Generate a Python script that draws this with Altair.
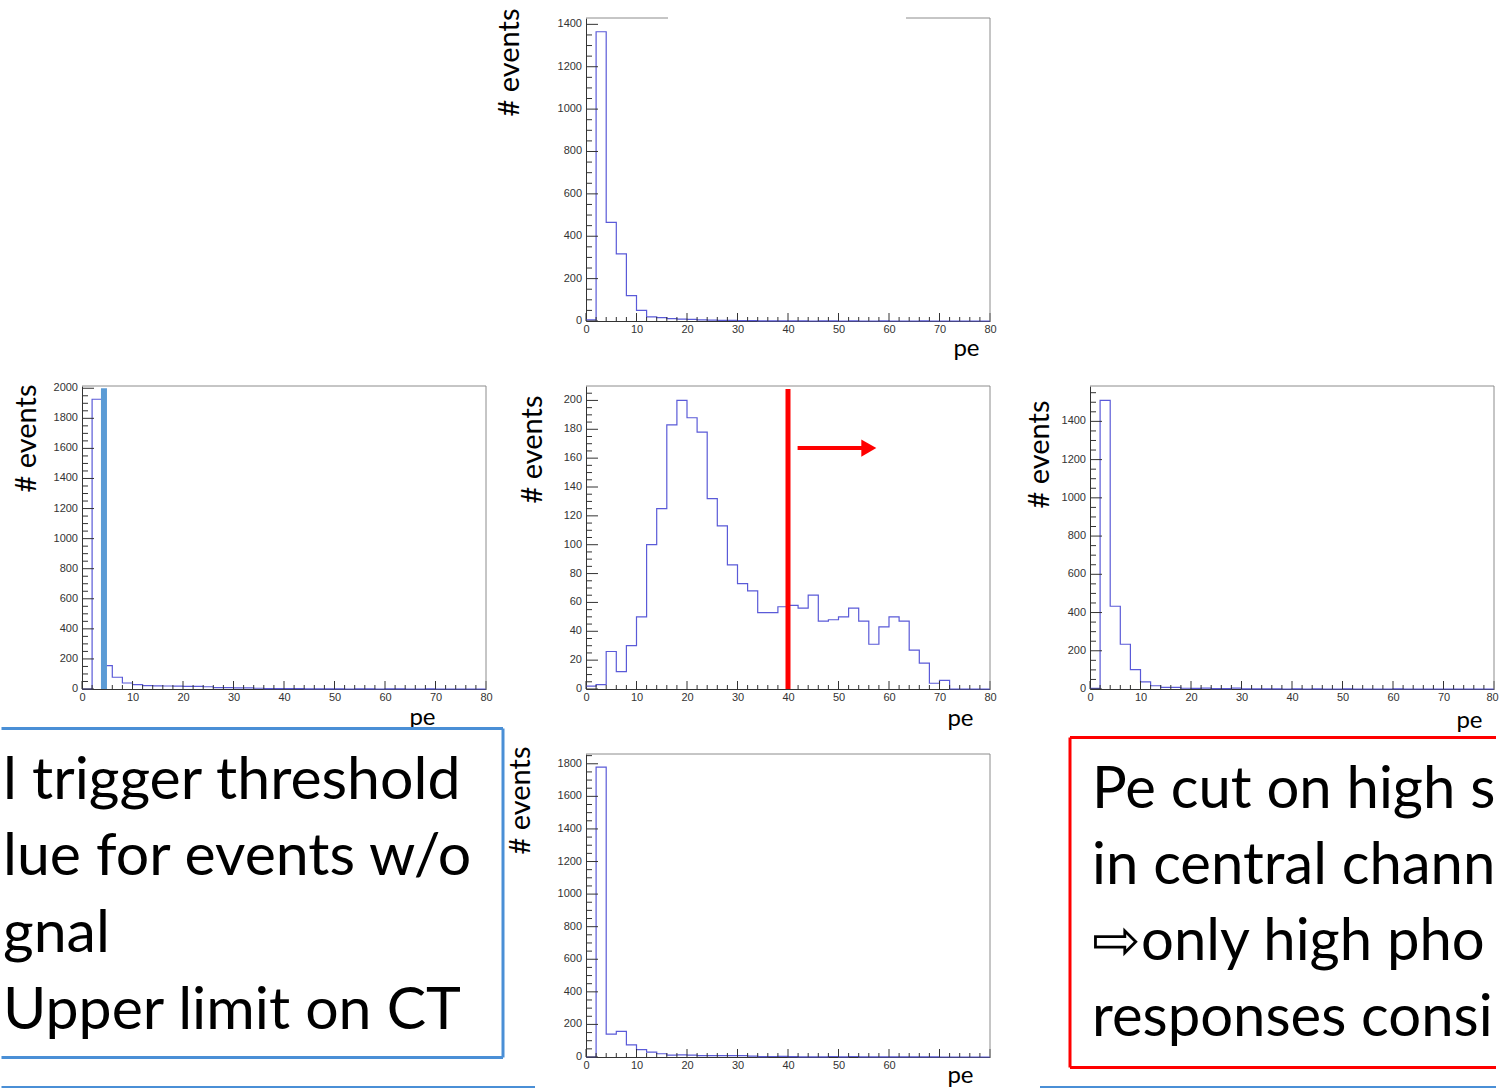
import altair as alt
import pandas as pd

# ---------------- data ----------------
bin_edges = list(range(0, 80, 2))  # 40 bins of width 2 pe

top_counts = [5, 1365, 465, 317, 120, 50, 19, 16, 11, 9, 8, 5, 4, 3, 3, 2, 2, 1, 1, 1,
              1, 1, 0, 1, 1, 0, 1, 0, 0, 1, 0, 0, 0, 1, 0, 0, 0, 0, 0, 0]
left_counts = [0, 1927, 155, 78, 40, 29, 22, 21, 20, 19, 18, 17, 15, 9, 9, 8, 7, 5, 3, 2,
               2, 2, 1, 1, 1, 1, 0, 1, 1, 0, 1, 1, 0, 0, 1, 0, 0, 0, 0, 0]
center_counts = [2, 3, 26, 12, 30, 50, 100, 125, 183, 200, 188, 178, 132, 113, 86, 73, 68, 53, 53, 57,
                 58, 56, 65, 47, 48, 50, 56, 47, 31, 43, 50, 47, 27, 18, 4, 6, 0, 0, 0, 0]
right_counts = [3, 1510, 433, 234, 101, 37, 17, 9, 8, 4, 3, 5, 2, 2, 5, 1, 1, 1, 1, 0,
                1, 0, 1, 0, 0, 1, 0, 0, 0, 0, 1, 0, 0, 0, 0, 0, 0, 0, 0, 0]
bottom_counts = [0, 1779, 140, 157, 74, 45, 30, 20, 12, 13, 12, 9, 9, 8, 8, 8, 5, 2, 3, 4,
                 2, 1, 1, 1, 3, 1, 3, 1, 1, 1, 1, 1, 1, 1, 1, 0, 0, 0, 0, 0]

x_labels = [0, 10, 20, 30, 40, 50, 60, 70, 80]

cut_pe = [40]          # pe cut line in central channel
cut_top = [208]
arrow_x0 = [41.9]
arrow_x1 = [55.0]
arrow_head_x = [56.0]
arrow_y = [167]
thr_pe = [4.35]        # trigger threshold marker in left channel
thr_top = [2000]

blue_text = ["l trigger threshold", "lue for events w/o", "gnal", "Upper limit on CT"]
red_text = ["Pe cut on high s", "in central chann", "\u21e8only high pho", "responses consi"]

# ---------------- style ----------------
W, H = 404, 303
HIST = "#5a5ad8"
AX = "#333333"
FR = "#8c8c8c"
LF = "Liberation Sans"
TF = "Lato"
one = pd.DataFrame({"a": [0]})


def panel(counts, ymax, ystep, label_max, ytxy, xtxy, top_segments, hide_from=None,
          last_offset=0, extra=()):
    hist = pd.DataFrame({"pe": bin_edges + [80], "events": counts + [counts[-1]]})
    xs = alt.Scale(domain=[0, 80], nice=False, zero=False)
    ys = alt.Scale(domain=[0, ymax], nice=False, zero=True)
    lexpr = "datum.label" if hide_from is None else f"datum.value >= {hide_from} ? '' : datum.label"
    xaxis = alt.Axis(values=x_labels, ticks=False, grid=False, domainColor=AX, domainWidth=1,
                     labelFont=LF, labelFontSize=11, labelColor=AX, labelPadding=2,
                     labelFlush=False, labelOverlap=False, labelExpr=lexpr,
                     labelOffset={"condition": {"test": "datum.value == 80", "value": last_offset},
                                  "value": 0},
                     title="pe", titleFont=TF, titleFontSize=24, titleFontWeight="normal",
                     titleColor="black", titleAlign="right", titleBaseline="alphabetic",
                     titleX=xtxy[0], titleY=xtxy[1])
    yaxis = alt.Axis(values=list(range(0, label_max + 1, ystep)), labels=False, ticks=False,
                     grid=False, domainColor=AX, domainWidth=1,
                     title="# events", titleFont=TF, titleFontSize=29, titleFontWeight="normal",
                     titleColor="black", titleAngle=270, titleAlign="right",
                     titleBaseline="alphabetic", titleX=ytxy[0], titleY=ytxy[1])
    line = alt.Chart(hist).mark_line(interpolate="step-after", color=HIST, strokeWidth=1.2).encode(
        x=alt.X("pe:Q", scale=xs, axis=xaxis),
        y=alt.Y("events:Q", scale=ys, axis=yaxis),
    )
    minor = ystep / 4
    ylab = list(range(0, label_max + 1, ystep))
    ymaj = [v for v in range(0, int(ymax) + 1, ystep)]
    ymin = [k * minor for k in range(0, int(ymax / minor) + 1) if (k * minor) % ystep != 0 and k * minor < ymax]
    xmaj = x_labels
    xmin = [v for v in range(0, 81, 2) if v % 10 != 0]
    layers = [line]
    layers.append(alt.Chart(pd.DataFrame({"events": ylab})).mark_text(
        align="right", baseline="middle", font=LF, fontSize=11, color=AX).encode(
        y=alt.Y("events:Q", scale=ys), x=alt.value(-4), text=alt.Text("events:Q", format="d")))
    layers.append(alt.Chart(pd.DataFrame({"events": ymaj})).mark_rule(color=AX).encode(
        y=alt.Y("events:Q", scale=ys), x=alt.value(0), x2=alt.value(12)))
    layers.append(alt.Chart(pd.DataFrame({"events": ymin})).mark_rule(color=AX).encode(
        y=alt.Y("events:Q", scale=ys), x=alt.value(0), x2=alt.value(6)))
    layers.append(alt.Chart(pd.DataFrame({"pe": xmaj})).mark_rule(color=AX).encode(
        x=alt.X("pe:Q", scale=xs), y=alt.value(H), y2=alt.value(H - 8)))
    layers.append(alt.Chart(pd.DataFrame({"pe": xmin})).mark_rule(color=AX).encode(
        x=alt.X("pe:Q", scale=xs), y=alt.value(H), y2=alt.value(H - 4)))
    for a, b in top_segments:
        layers.append(alt.Chart(one).mark_rule(color=FR).encode(
            x=alt.value(a), x2=alt.value(b), y=alt.value(0)))
    layers.append(alt.Chart(one).mark_rule(color=FR).encode(
        x=alt.value(W), y=alt.value(0), y2=alt.value(H)))
    for fn in extra:
        layers.extend(fn(xs, ys))
    return alt.layer(*layers).properties(width=W, height=H)


def cut_layers(xs, ys):
    d = pd.DataFrame({"pe": cut_pe, "events": [0], "hi": cut_top})
    red = alt.Chart(d).mark_rule(color="#ff0000", strokeWidth=5).encode(
        x=alt.X("pe:Q", scale=xs), y=alt.Y("events:Q", scale=ys), y2="hi:Q")
    da = pd.DataFrame({"pe": arrow_x0, "x1": arrow_x1, "events": arrow_y})
    shaft = alt.Chart(da).mark_rule(color="#ff0000", strokeWidth=4).encode(
        x=alt.X("pe:Q", scale=xs), x2="x1:Q", y=alt.Y("events:Q", scale=ys))
    dh = pd.DataFrame({"pe": arrow_head_x, "events": arrow_y})
    head = alt.Chart(dh).mark_point(shape="triangle-right", filled=True, size=300,
                                    color="#ff0000", opacity=1).encode(
        x=alt.X("pe:Q", scale=xs), y=alt.Y("events:Q", scale=ys))
    return [red, shaft, head]


def thr_layers(xs, ys):
    d = pd.DataFrame({"pe": thr_pe, "events": [0], "hi": thr_top})
    return [alt.Chart(d).mark_rule(color="#5b9bd5", strokeWidth=6).encode(
        x=alt.X("pe:Q", scale=xs), y=alt.Y("events:Q", scale=ys), y2="hi:Q")]


def anchor_layers(xs, ys):
    return [alt.Chart(one).mark_rule(color="white", strokeWidth=1).encode(
        x=alt.value(0), x2=alt.value(4), y=alt.value(-17))]


full_top = [(0, W)]
p_top = panel(top_counts, 1430, 200, 1400, (-68, -10), (393, 34), [(0, 82), (320, W)],
              extra=[anchor_layers])
p_left = panel(left_counts, 2015, 200, 2000, (-47, -2), (353, 35), full_top, extra=[thr_layers])
p_center = panel(center_counts, 210, 20, 200, (-45, 9), (387, 36), full_top, extra=[cut_layers])
p_right = panel(right_counts, 1585, 200, 1400, (-42, 14), (392, 38), full_top, last_offset=-2)
p_bottom = panel(bottom_counts, 1860, 200, 1800, (-57, -8), (387, 25), full_top, hide_from=70)

empty = alt.Chart(one).mark_point(opacity=0).encode(
    x=alt.value(0), y=alt.value(0)).properties(width=W, height=H)

BLUE = "#4a8fd6"
blue_box = alt.layer(
    alt.Chart(one).mark_rect(color="white").encode(
        x=alt.value(-80.5), x2=alt.value(421), y=alt.value(-25.5), y2=alt.value(303.5)),
    alt.Chart(one).mark_rule(color=BLUE, strokeWidth=3).encode(
        x=alt.value(-80.5), x2=alt.value(421), y=alt.value(-25.5)),
    alt.Chart(one).mark_rule(color=BLUE, strokeWidth=3).encode(
        x=alt.value(421), y=alt.value(-25.5), y2=alt.value(303.5)),
    alt.Chart(one).mark_rule(color=BLUE, strokeWidth=3).encode(
        x=alt.value(-80.5), x2=alt.value(421), y=alt.value(303.5)),
    alt.Chart(one).mark_text(align="left", baseline="alphabetic", font=TF, fontSize=59,
                             lineHeight=76.7, color="black").encode(
        x=alt.value(-79), y=alt.value(44.5), text=alt.value(blue_text)),
    alt.Chart(one).mark_rule(color=BLUE, strokeWidth=2).encode(
        x=alt.value(-80.5), x2=alt.value(453), y=alt.value(333)),
).properties(width=W, height=H)

RED = "#ff0000"
red_box = alt.layer(
    alt.Chart(one).mark_rule(color=RED, strokeWidth=3).encode(
        x=alt.value(-20), x2=alt.value(406), y=alt.value(-16.5)),
    alt.Chart(one).mark_rule(color=RED, strokeWidth=3).encode(
        x=alt.value(-20), y=alt.value(-16.5), y2=alt.value(313.5)),
    alt.Chart(one).mark_rule(color=RED, strokeWidth=3).encode(
        x=alt.value(-20), x2=alt.value(406), y=alt.value(313.5)),
    alt.Chart(one).mark_text(align="left", baseline="alphabetic", font=TF, fontSize=58,
                             lineHeight=76, color="black", limit=405, ellipsis="\u200b").encode(
        x=alt.value(2), y=alt.value(53.5), text=alt.value(red_text)),
    alt.Chart(one).mark_rule(color=BLUE, strokeWidth=2).encode(
        x=alt.value(-50), x2=alt.value(406), y=alt.value(333)),
).properties(width=W, height=H)

chart = alt.concat(
    empty, p_top, empty,
    p_left, p_center, p_right,
    blue_box, p_bottom, red_box,
    columns=3, spacing={"row": 65, "column": 100}, bounds="flush",
).properties(padding=0).configure_view(stroke=None).configure_axis(
    labelOverlap=False, labelFlush=False)

chart.save("out.html", embed_options={"renderer": "svg", "actions": False})
